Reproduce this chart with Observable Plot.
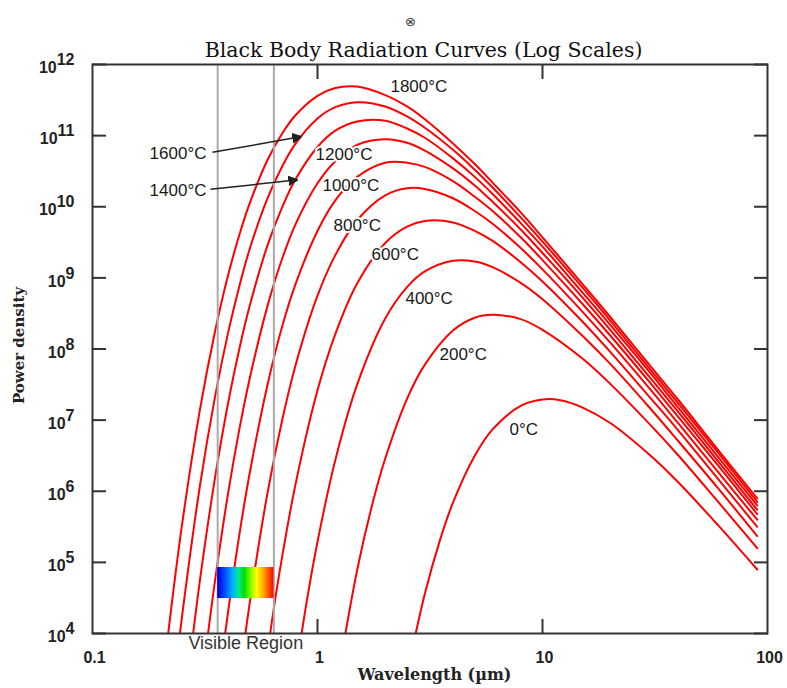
<!DOCTYPE html>
<html><head><meta charset="utf-8">
<script src="https://cdn.jsdelivr.net/npm/d3@7"></script>
<script src="https://cdn.jsdelivr.net/npm/@observablehq/plot@0.6"></script>
<style>body{margin:0;background:#fff}#chart svg{display:block}</style>
</head><body><div id="chart"></div>
<script>
// ---- data (wavelength in µm, log10 of power density) ----
const curveNames = ["0°C","200°C","400°C","600°C","800°C","1000°C","1200°C","1400°C","1600°C","1800°C"];

const wl_0    = [2.5, 3, 3.5, 4, 5, 6, 8, 10, 12, 15, 20, 30, 40, 60, 90];
const lp_0    = [3.43, 4.56, 5.31, 5.84, 6.50, 6.87, 7.20, 7.29, 7.28, 7.18, 6.96, 6.51, 6.13, 5.53, 4.90];

const wl_200  = [1.2, 1.5, 1.75, 2, 2.5, 3, 4, 5, 6, 8, 10, 15, 20, 30, 40, 60, 90];
const lp_200  = [3.17, 4.89, 5.81, 6.46, 7.30, 7.78, 8.26, 8.44, 8.48, 8.42, 8.27, 7.87, 7.51, 6.94, 6.51, 5.86, 5.20];

const wl_400  = [0.8, 0.9, 1, 1.2, 1.5, 2, 2.5, 3, 4, 5, 6, 8, 10, 15, 20, 30, 40, 60, 90];
const lp_400  = [3.45, 4.49, 5.29, 6.44, 7.50, 8.43, 8.87, 9.09, 9.24, 9.23, 9.15, 8.93, 8.70, 8.19, 7.79, 7.17, 6.71, 6.05, 5.37];

const wl_600  = [0.6, 0.65, 0.7, 0.8, 1, 1.2, 1.5, 2, 2.5, 3, 4, 5, 6, 8, 10, 15, 20, 30, 40, 60, 90];
const lp_600  = [3.75, 4.50, 5.12, 6.11, 7.42, 8.21, 8.92, 9.49, 9.72, 9.80, 9.78, 9.66, 9.52, 9.22, 8.95, 8.39, 7.96, 7.32, 6.86, 6.18, 5.50];

const wl_800  = [0.45, 0.5, 0.6, 0.7, 0.8, 1, 1.2, 1.5, 2, 2.5, 3, 4, 5, 6, 8, 10, 15, 20, 30, 40, 60, 90];
const lp_800  = [3.37, 4.43, 5.98, 7.03, 7.78, 8.75, 9.32, 9.81, 10.16, 10.26, 10.25, 10.12, 9.94, 9.76, 9.42, 9.12, 8.53, 8.09, 7.44, 6.96, 6.28, 5.60];

const wl_1000 = [0.35, 0.38, 0.4, 0.45, 0.5, 0.6, 0.7, 0.8, 1, 1.2, 1.5, 2, 2.5, 3, 4, 5, 6, 8, 10, 15, 20, 30, 40, 60, 90];
const lp_1000 = [2.83, 3.76, 4.29, 5.40, 6.26, 7.50, 8.34, 8.92, 9.66, 10.09, 10.42, 10.62, 10.62, 10.56, 10.36, 10.14, 9.94, 9.57, 9.25, 8.64, 8.19, 7.53, 7.05, 6.37, 5.68];

const wl_1200 = [0.3, 0.32, 0.35, 0.4, 0.45, 0.5, 0.6, 0.7, 0.8, 1, 1.2, 1.5, 2, 2.5, 3, 4, 5, 6, 8, 10, 15, 20, 30, 40, 60, 90];
const lp_1200 = [3.05, 3.79, 4.73, 5.96, 6.88, 7.59, 8.61, 9.29, 9.76, 10.33, 10.64, 10.87, 10.95, 10.90, 10.79, 10.54, 10.30, 10.07, 9.68, 9.35, 8.73, 8.27, 7.60, 7.12, 6.43, 5.74];

const wl_1400 = [0.25, 0.27, 0.3, 0.35, 0.4, 0.45, 0.5, 0.6, 0.7, 0.8, 1, 1.2, 1.5, 2, 2.5, 3, 4, 5, 6, 8, 10, 15, 20, 30, 40, 60, 90];
const lp_1400 = [2.64, 3.58, 4.74, 6.18, 7.23, 8.01, 8.61, 9.46, 10.01, 10.39, 10.84, 11.07, 11.20, 11.21, 11.10, 10.97, 10.68, 10.42, 10.18, 9.77, 9.44, 8.80, 8.34, 7.67, 7.18, 6.49, 5.80];

const wl_1600 = [0.22, 0.24, 0.25, 0.3, 0.35, 0.4, 0.45, 0.5, 0.6, 0.7, 0.8, 1, 1.2, 1.5, 2, 2.5, 3, 4, 5, 6, 8, 10, 15, 20, 30, 40, 60, 90];
const lp_1600 = [2.70, 3.77, 4.24, 6.07, 7.32, 8.22, 8.89, 9.41, 10.12, 10.58, 10.89, 11.24, 11.40, 11.47, 11.41, 11.27, 11.11, 10.80, 10.52, 10.27, 9.85, 9.51, 8.87, 8.40, 7.72, 7.24, 6.55, 5.85];

const wl_1800 = [0.2, 0.21, 0.22, 0.25, 0.3, 0.35, 0.4, 0.45, 0.5, 0.6, 0.7, 0.8, 1, 1.2, 1.5, 2, 2.5, 3, 4, 5, 6, 8, 10, 15, 20, 30, 40, 60, 90];
const lp_1800 = [3.00, 3.61, 4.16, 5.53, 7.14, 8.24, 9.03, 9.61, 10.05, 10.66, 11.04, 11.29, 11.56, 11.67, 11.69, 11.57, 11.41, 11.23, 10.89, 10.60, 10.34, 9.92, 9.57, 8.92, 8.45, 7.77, 7.29, 6.59, 5.90];

const curveWavelengths = [wl_0, wl_200, wl_400, wl_600, wl_800, wl_1000, wl_1200, wl_1400, wl_1600, wl_1800];
const curveLogPower    = [lp_0, lp_200, lp_400, lp_600, lp_800, lp_1000, lp_1200, lp_1400, lp_1600, lp_1800];

// curve labels (text, wavelength, power, anchor)
const labelText       = ["1800°C", "1600°C", "1400°C", "1200°C", "1000°C", "800°C", "600°C", "400°C", "200°C", "0°C"];
const labelWavelength = [2.11, 0.321, 0.321, 0.98, 1.052, 1.178, 1.738, 2.46, 3.485, 7.13];
const labelPower      = [4.93e11, 5.64e10, 1.70e10, 5.46e10, 2.0e10, 5.47e9, 2.14e9, 5.15e8, 8.4e7, 7.4e6];
const labelAnchor     = ["start", "end", "end", "start", "start", "start", "start", "start", "start", "start"];

// arrows for 1600 and 1400
const arrowFromWl = [0.3414, 0.3344];
const arrowFromP  = [5.82e10, 1.76e10];
const arrowToWl   = [0.815, 0.782];
const arrowToP    = [9.47e10, 2.35e10];

// visible region
const visibleBounds = [0.36, 0.64];
const spectrumPower = [3.1e4, 8.47e4];

// axes
const xTicks = [0.1, 1, 10, 100];
const xInnerTicks = [1, 10];
const yExponents = [4, 5, 6, 7, 8, 9, 10, 11, 12];
const yTicks = yExponents.map(e => 10 ** e);

// ---- build tables ----
const rows = [];
curveNames.forEach((name, k) => {
  curveWavelengths[k].forEach((w, i) => rows.push({t: name, wl: w, p: 10 ** curveLogPower[k][i]}));
});
const labels = labelText.map((s, i) => ({s, wl: labelWavelength[i], p: labelPower[i], a: labelAnchor[i]}));
const arrows = arrowFromWl.map((w, i) => ({x1: w, y1: arrowFromP[i], x2: arrowToWl[i], y2: arrowToP[i]}));

const sans = "Liberation Sans, Arial, sans-serif";
const serif = "DejaVu Serif, serif";

const chart = Plot.plot({
  width: 787,
  height: 688,
  marginLeft: 92,
  marginRight: 20,
  marginTop: 64,
  marginBottom: 55,
  style: {fontFamily: sans, fontSize: "16px", color: "#222", background: "#fff"},
  x: {type: "log", domain: [0.1, 100]},
  y: {type: "log", domain: [1e4, 1e12]},
  marks: [
    Plot.line(rows, {x: "wl", y: "p", z: "t", stroke: "#ff0000", strokeWidth: 2, curve: "catmull-rom", clip: true}),
    Plot.ruleX(visibleBounds, {stroke: "#aaaaaa", strokeWidth: 2}),
    Plot.rect([0], {x1: () => visibleBounds[0], x2: () => visibleBounds[1], y1: () => spectrumPower[0], y2: () => spectrumPower[1], fill: "url(#spectrum)"}),
    Plot.frame({stroke: "#333", strokeWidth: 2}),
    // inward ticks
    Plot.axisX({anchor: "bottom", ticks: xInnerTicks, tickSize: -14, fill: "none", label: null, stroke: "#333", strokeWidth: 2}),
    Plot.axisX({anchor: "top", ticks: xInnerTicks, tickSize: -14, fill: "none", label: null, stroke: "#333", strokeWidth: 2}),
    Plot.axisY({anchor: "left", ticks: yTicks, tickSize: -14, fill: "none", label: null, stroke: "#333", strokeWidth: 2}),
    Plot.axisY({anchor: "right", ticks: yTicks, tickSize: -14, fill: "none", label: null, stroke: "#333", strokeWidth: 2}),
    // tick labels
    Plot.axisX({anchor: "bottom", ticks: xTicks, tickSize: 0, tickPadding: 18, dx: 2, tickFormat: d => String(d), label: null, fontSize: 16, fontWeight: "bold", fill: "#222"}),
    Plot.axisY({anchor: "left", ticks: yTicks, tickSize: 0, tickPadding: 18, tickFormat: d => String(Math.round(Math.log10(d))), label: null, fontSize: 16, fontWeight: "bold", fill: "#222"}),
    // arrows
    Plot.link(arrows, {x1: "x1", y1: "y1", x2: "x2", y2: "y2", stroke: "#222", strokeWidth: 1.5, markerEnd: "arrow"}),
    // curve labels
    Plot.text(labels.filter(d => d.a === "start"), {x: "wl", y: "p", text: "s", textAnchor: "start", fontSize: 17, fill: "#1a1a1a", stroke: "white", strokeWidth: 4}),
    Plot.text(labels.filter(d => d.a === "end"), {x: "wl", y: "p", text: "s", textAnchor: "end", fontSize: 17, fill: "#1a1a1a", stroke: "white", strokeWidth: 4}),
    // visible region label
    Plot.text(["Visible Region"], {x: () => Math.sqrt(visibleBounds[0] * visibleBounds[1]), frameAnchor: "bottom", dy: 15, text: d => d, fontSize: 18, fill: "#333"}),
    // title, axis labels
    Plot.text(["Black Body Radiation Curves (Log Scales)"], {x: () => 2.96, frameAnchor: "top", dy: -22, text: d => d, fontFamily: serif, fontSize: 20.5, fill: "#111"}),
    Plot.text(["⊗"], {x: () => 2.59, frameAnchor: "top", dy: -48, text: d => d, fontFamily: "DejaVu Sans", fontSize: 13, fill: "#333"}),
    Plot.text(["Wavelength (µm)"], {x: () => 3.31, frameAnchor: "bottom", dy: 46, text: d => d, fontFamily: serif, fontSize: 16, fontWeight: "bold", fill: "#222"}),
    Plot.text(["Power density"], {y: () => 1.12e8, frameAnchor: "left", textAnchor: "middle", dx: -73, rotate: -90, text: d => d, fontFamily: serif, fontSize: 15, fontWeight: "bold", fill: "#222"})
  ]
});

// gradient for the spectrum swatch
const svg = d3.select(chart);
const grad = svg.insert("defs", ":first-child").append("linearGradient").attr("id", "spectrum").attr("x1", "0").attr("x2", "1").attr("y1", "0").attr("y2", "0");
const stops = [[0, "#0000cc"], [0.12, "#0040ff"], [0.28, "#00b4ff"], [0.38, "#00e890"], [0.48, "#00dd00"], [0.6, "#80ff00"], [0.7, "#ffff00"], [0.84, "#ff9900"], [1, "#ff0000"]];
stops.forEach(([o, c]) => grad.append("stop").attr("offset", o).attr("stop-color", c));

// superscript exponents on y tick labels
svg.selectAll('g[aria-label="y-axis tick label"] text').each(function () {
  const t = d3.select(this);
  const exp = t.text();
  t.text(null);
  t.append("tspan").attr("dy", 3.6).text("10");
  t.append("tspan").attr("dy", -8).text(exp);
});

// filled arrowheads
svg.selectAll("marker").attr("fill", "#222").select("path").attr("d", "M-5,-4.5L4,0L-5,4.5Z");

document.getElementById("chart").appendChild(chart);
</script></body></html>
